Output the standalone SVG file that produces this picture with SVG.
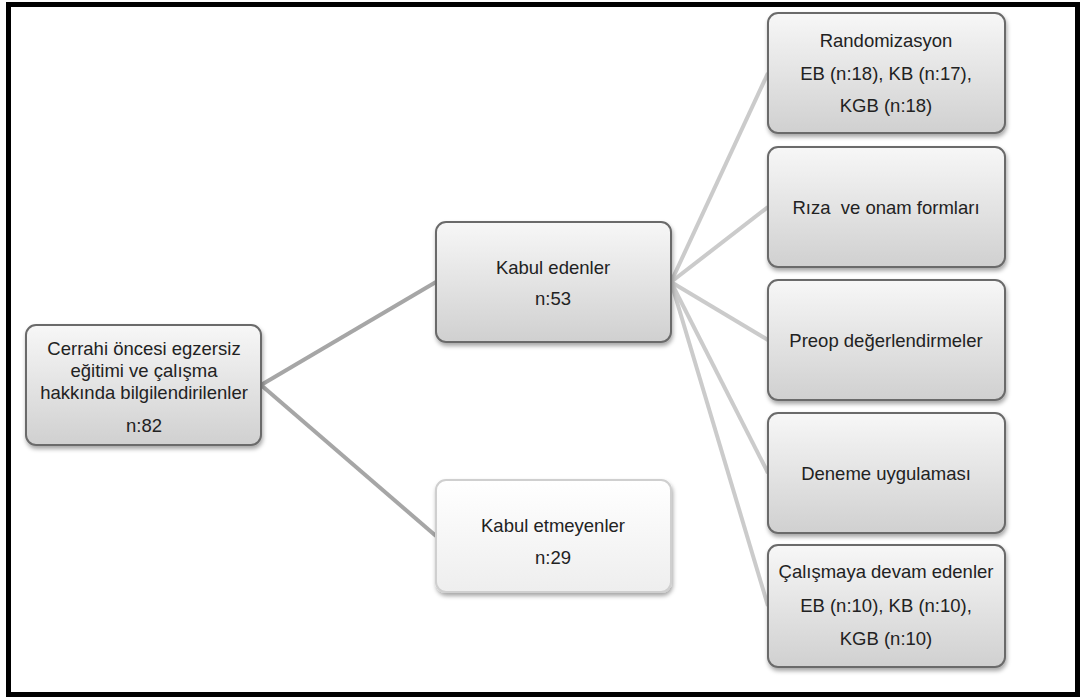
<svg xmlns="http://www.w3.org/2000/svg" width="1085" height="699" viewBox="0 0 1085 699">
<style>
.t{font-family:"Liberation Sans",Arial,sans-serif;font-size:18.5px;fill:#222;text-anchor:middle;white-space:pre}
.box{fill:url(#g);stroke:#6b6b6b;stroke-width:2;filter:url(#sh)}
.lbox{fill:url(#gl);stroke:#cfcfcf;stroke-width:2;filter:url(#sh)}
.c1{stroke:#a6a6a6;stroke-width:4;fill:none}
.c2{stroke:#cbcbcb;stroke-width:4;fill:none}
</style>
<defs>
<linearGradient id="g" x1="0" y1="0" x2="0" y2="1"><stop offset="0" stop-color="#f7f7f7"/><stop offset="1" stop-color="#d0d0d0"/></linearGradient>
<linearGradient id="gl" x1="0" y1="0" x2="0" y2="1"><stop offset="0" stop-color="#ffffff"/><stop offset="1" stop-color="#eeeeee"/></linearGradient>
<filter id="sh" x="-10%" y="-10%" width="125%" height="130%"><feDropShadow dx="1" dy="3" stdDeviation="2" flood-color="#000" flood-opacity="0.35"/></filter>
</defs>
<rect x="0" y="0" width="1085" height="699" fill="#fff"/>
<rect x="8.5" y="4.5" width="1069" height="690" fill="none" stroke="#000" stroke-width="5"/>
<g id="connectors">
<line class="c1" x1="261" y1="385" x2="436" y2="282"/>
<line class="c1" x1="261" y1="385" x2="436" y2="536"/>
<line class="c2" x1="671" y1="282" x2="768" y2="73"/>
<line class="c2" x1="671" y1="282" x2="768" y2="207"/>
<line class="c2" x1="671" y1="282" x2="768" y2="340"/>
<line class="c2" x1="671" y1="282" x2="768" y2="473"/>
<line class="c2" x1="671" y1="282" x2="768" y2="606"/>
</g>
<g id="n-root">
<rect class="box" x="26" y="325" width="235" height="120" rx="10"/>
<text class="t" x="144" y="355">Cerrahi öncesi egzersiz</text>
<text class="t" x="144" y="377">eğitimi ve çalışma</text>
<text class="t" x="144" y="399">hakkında bilgilendirilenler</text>
<text class="t" x="144" y="432">n:82</text>
</g>
<g id="n-kabul">
<rect class="box" x="436" y="222" width="235" height="120" rx="10"/>
<text class="t" x="553" y="274">Kabul edenler</text>
<text class="t" x="553" y="305">n:53</text>
</g>
<g id="n-red">
<rect class="lbox" x="436" y="480" width="235" height="112" rx="10"/>
<text class="t" x="553" y="532">Kabul etmeyenler</text>
<text class="t" x="553" y="564">n:29</text>
</g>
<g id="n-rand">
<rect class="box" x="768" y="13" width="237" height="120" rx="10"/>
<text class="t" x="886" y="47">Randomizasyon</text>
<text class="t" x="886" y="80">EB (n:18), KB (n:17),</text>
<text class="t" x="886" y="112">KGB (n:18)</text>
</g>
<g id="n-riza">
<rect class="box" x="768" y="147" width="237" height="120" rx="10"/>
<text class="t" x="886" y="214">Rıza  ve onam formları</text>
</g>
<g id="n-preop">
<rect class="box" x="768" y="280" width="237" height="120" rx="10"/>
<text class="t" x="886" y="347">Preop değerlendirmeler</text>
</g>
<g id="n-deneme">
<rect class="box" x="768" y="413" width="237" height="120" rx="10"/>
<text class="t" x="886" y="480">Deneme uygulaması</text>
</g>
<g id="n-devam">
<rect class="box" x="768" y="545" width="237" height="122" rx="10"/>
<text class="t" x="886" y="578">Çalışmaya devam edenler</text>
<text class="t" x="886" y="612">EB (n:10), KB (n:10),</text>
<text class="t" x="886" y="645">KGB (n:10)</text>
</g>
</svg>
